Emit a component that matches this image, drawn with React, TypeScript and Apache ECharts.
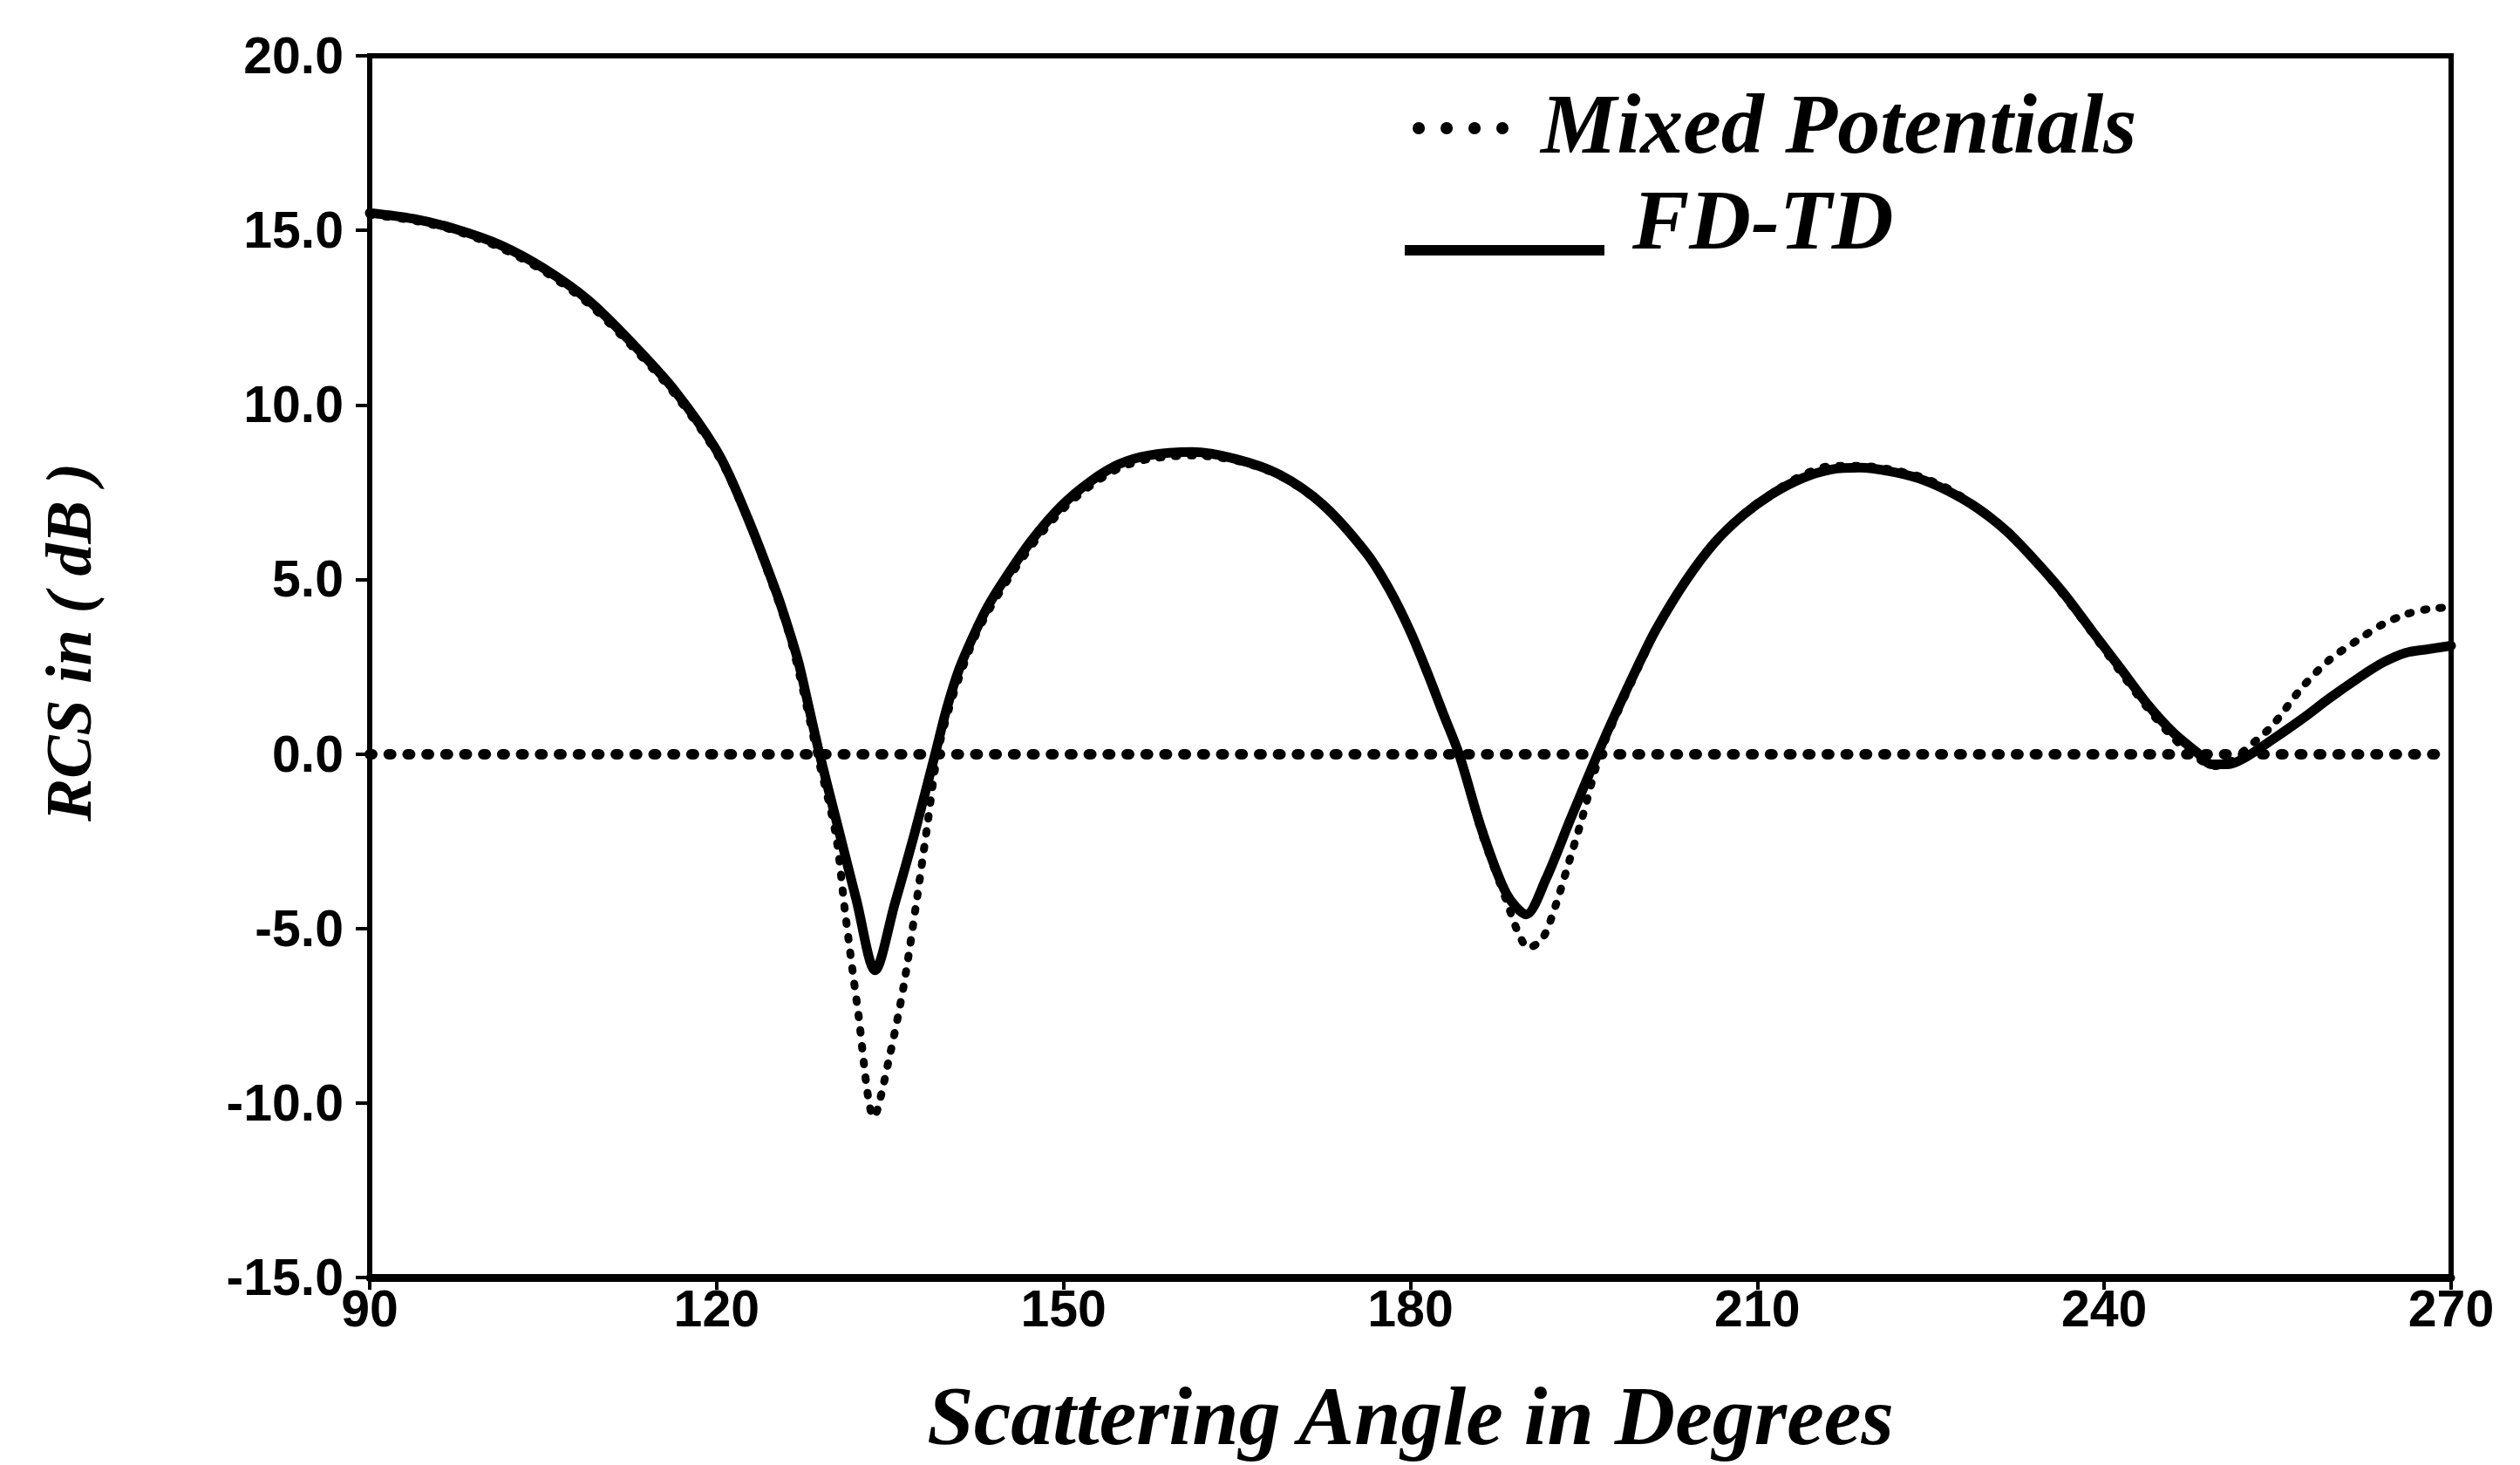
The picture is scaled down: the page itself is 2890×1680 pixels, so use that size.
import React, { useEffect, useRef } from "react";
import * as echarts from "echarts";

// Scattering angle (deg) and RCS (dB)
const fdtdAngles = [90, 93.8, 97.5, 101.3, 105.1, 108.9, 112.6, 116.4, 120.2, 122.7, 125.2, 126.2, 127.1, 128.0, 128.9, 130.5, 132.1, 133.7, 135.4, 137.1, 138.9, 139.9, 141.0, 142.3, 143.5, 144.8, 147.2, 149.8, 152.3, 154.8, 157.3, 161.1, 164.9, 168.7, 172.4, 176.2, 178.2, 180, 181.5, 182.9, 184.2, 186.2, 188.3, 190, 191.7, 193.8, 196.2, 197.8, 200, 201.3, 203.8, 206.3, 208.8, 211.3, 213.9, 216.4, 218.9, 221.4, 223.9, 226.4, 229, 231.5, 234, 236.5, 239, 241.3, 243.8, 246, 248, 249.3, 250.7, 252.2, 254.5, 257.1, 259.5, 262.1, 264, 266.1, 268, 270];
const fdtdValues = [15.5, 15.33, 15.03, 14.58, 13.9, 13.0, 11.8, 10.4, 8.58, 6.75, 4.6, 3.6, 2.6, 1.3, 0, -2.1, -4.2, -6.2, -4.3, -2.3, 0, 1.3, 2.45, 3.45, 4.25, 4.95, 6.1, 7.1, 7.8, 8.3, 8.55, 8.65, 8.45, 8.0, 7.15, 5.75, 4.7, 3.5, 2.3, 1.1, 0, -2.2, -4.0, -4.6, -3.6, -1.9, 0, 1.2, 2.75, 3.6, 4.95, 6.05, 6.85, 7.45, 7.9, 8.15, 8.2, 8.1, 7.9, 7.55, 7.05, 6.4, 5.55, 4.6, 3.5, 2.5, 1.4, 0.6, 0.05, -0.3, -0.3, -0.1, 0.4, 1.0, 1.6, 2.2, 2.6, 2.9, 3.0, 3.1];

const mixedAngles = [90, 93.8, 97.5, 101.3, 105.1, 108.9, 112.6, 116.4, 120.2, 122.7, 125.2, 126.2, 127.0, 127.9, 128.7, 130.3, 131.1, 132.2, 133.6, 135.0, 136.2, 137.3, 138.2, 139.1, 140.1, 141.2, 142.4, 143.6, 144.9, 147.3, 149.9, 152.4, 154.9, 157.4, 161.2, 165, 168.8, 172.5, 176.3, 178.3, 180.1, 181.6, 183.0, 184.2, 186.2, 188.3, 189.3, 190.2, 191.4, 192.5, 193.8, 194.8, 196.4, 198, 200.1, 201.4, 203.9, 206.4, 208.9, 211.4, 214, 216.5, 219, 221.5, 224, 226.5, 229.1, 231.6, 234.1, 236.6, 239.1, 241.4, 243.9, 246, 248, 249.5, 250.8, 252.3, 254.5, 257.1, 259.5, 262.1, 264, 266.1, 268, 270];
const mixedValues = [15.45, 15.28, 14.98, 14.5, 13.82, 12.9, 11.7, 10.3, 8.5, 6.7, 4.5, 3.5, 2.5, 1.2, 0, -2.3, -4.5, -7.3, -10.4, -8.6, -6.6, -4.2, -2.1, 0, 1.3, 2.4, 3.4, 4.15, 4.85, 6.0, 7.0, 7.7, 8.2, 8.45, 8.55, 8.4, 7.95, 7.1, 5.7, 4.65, 3.45, 2.25, 1.05, 0, -2.3, -4.2, -5.1, -5.55, -5.3, -4.4, -3.0, -1.9, 0, 1.25, 2.75, 3.65, 5.0, 6.1, 6.9, 7.5, 8.0, 8.25, 8.25, 8.15, 7.95, 7.6, 7.05, 6.4, 5.5, 4.5, 3.4, 2.35, 1.25, 0.45, -0.1, -0.35, -0.25, 0.15, 0.8, 1.9, 2.7, 3.3, 3.7, 4.0, 4.15, 4.2];

const seriesNames = ["Mixed Potentials", "FD-TD"];
const xAxisRange = [90, 270];
const xTickStep = 30;
const yAxisRange = [-15, 20];
const yTickStep = 5;
const referenceLevel = 0;

const xTitle = "Scattering Angle in Degrees";
const yTitle = "RCS in ( dB )";

const scriptFont = "'Liberation Serif', 'DejaVu Serif', serif";
const tickFont = "'Liberation Sans', Arial, sans-serif";

export default function App() {
  const ref = useRef<HTMLDivElement | null>(null);

  useEffect(() => {
    if (!ref.current) return;
    document.body.style.margin = "0";
    const chart = echarts.init(ref.current, undefined, { renderer: "svg" });

    const mixedData = mixedAngles.map((a, i) => [a, mixedValues[i]]);
    const fdtdData = fdtdAngles.map((a, i) => [a, fdtdValues[i]]);

    const option: any = {
      animation: false,
      backgroundColor: "#ffffff",
      grid: {
        left: 424,
        right: 79,
        top: 64,
        bottom: 215,
        show: true,
        borderColor: "#000",
        borderWidth: 6,
        backgroundColor: "transparent",
        containLabel: false,
        outerBoundsMode: "none",
      },
      xAxis: {
        type: "value",
        min: xAxisRange[0],
        max: xAxisRange[1],
        interval: xTickStep,
        name: xTitle,
        nameLocation: "middle",
        nameGap: 110,
        nameTextStyle: {
          fontFamily: scriptFont,
          fontStyle: "italic",
          fontWeight: "bold",
          fontSize: 96,
          color: "#000",
        },
        axisLine: { show: true, onZero: false, lineStyle: { color: "#000", width: 9 } },
        axisTick: { show: true, inside: false, length: 14, lineStyle: { color: "#000", width: 4 } },
        axisLabel: {
          show: true,
          margin: 6,
          fontFamily: tickFont,
          fontWeight: "bold",
          fontSize: 59,
          color: "#000",
        },
        splitLine: { show: false },
      },
      yAxis: {
        type: "value",
        min: yAxisRange[0],
        max: yAxisRange[1],
        interval: yTickStep,
        name: yTitle,
        nameLocation: "middle",
        nameRotate: 90,
        nameGap: 308,
        nameTextStyle: {
          fontFamily: scriptFont,
          fontStyle: "italic",
          fontWeight: "bold",
          fontSize: 74,
          color: "#000",
          padding: [0, 0, 0, 56],
        },
        axisLine: { show: true, onZero: false, lineStyle: { color: "#000", width: 6 } },
        axisTick: { show: true, inside: false, length: 16, lineStyle: { color: "#000", width: 4 } },
        axisLabel: {
          show: true,
          margin: 30,
          fontFamily: tickFont,
          fontWeight: "bold",
          fontSize: 59,
          color: "#000",
          formatter: (v: number) => v.toFixed(1),
        },
        splitLine: { show: false },
      },
      series: [
        {
          name: seriesNames[0],
          type: "line",
          data: mixedData,
          showSymbol: false,
          smooth: 0.3,
          lineStyle: { color: "#000", width: 9, type: [3, 15], cap: "round" },
          z: 3,
        },
        {
          name: seriesNames[1],
          type: "line",
          data: fdtdData,
          showSymbol: false,
          smooth: 0.3,
          lineStyle: { color: "#000", width: 11, type: "solid", cap: "round", join: "round" },
          z: 4,
          markLine: {
            silent: true,
            symbol: "none",
            label: { show: false },
            lineStyle: { color: "#000", width: 12, type: [3, 18.7], cap: "round" },
            data: [{ yAxis: referenceLevel }],
          },
        },
      ],
      graphic: [
        {
          type: "line",
          shape: { x1: 1627, y1: 147, x2: 1723, y2: 147 },
          style: { stroke: "#000", lineWidth: 14, lineDash: [0.1, 31.9], lineCap: "round" },
        },
        {
          type: "text",
          x: 1767,
          y: 142,
          style: {
            text: seriesNames[0],
            fontFamily: scriptFont,
            fontStyle: "italic",
            fontWeight: "bold",
            fontSize: 98,
            fill: "#000",
            align: "left",
            verticalAlign: "middle",
          },
        },
        {
          type: "line",
          shape: { x1: 1611, y1: 287, x2: 1840, y2: 287 },
          style: { stroke: "#000", lineWidth: 12 },
        },
        {
          type: "text",
          x: 1872,
          y: 252,
          style: {
            text: seriesNames[1],
            fontFamily: scriptFont,
            fontStyle: "italic",
            fontWeight: "bold",
            fontSize: 98,
            fill: "#000",
            align: "left",
            verticalAlign: "middle",
          },
        },
      ],
    };

    chart.setOption(option);
    return () => {
      chart.dispose();
    };
  }, []);

  return (
    <div
      ref={ref}
      style={{ position: "fixed", left: 0, top: 0, width: 2890, height: 1680, background: "#fff" }}
    />
  );
}
